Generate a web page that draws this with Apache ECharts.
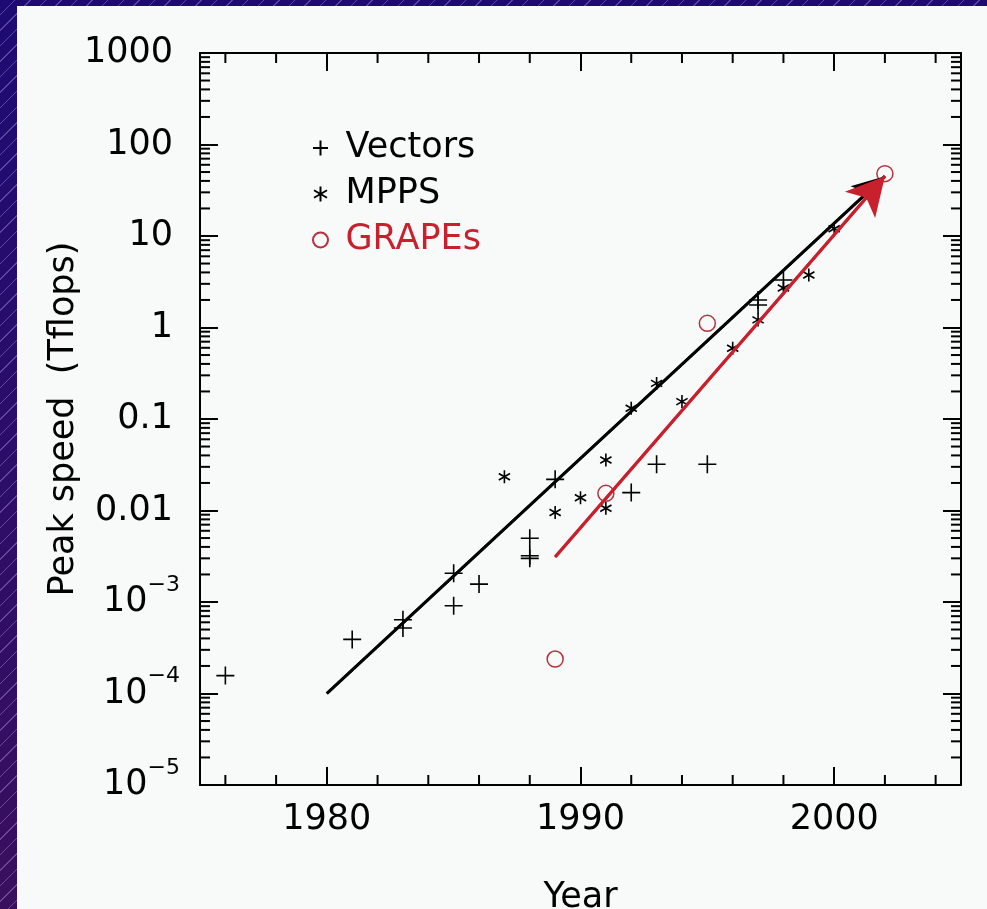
<!DOCTYPE html>
<html>
<head>
<meta charset="utf-8">
<script src="https://cdn.jsdelivr.net/npm/echarts@6/dist/echarts.min.js"></script>
<style>
  html, body { margin: 0; padding: 0; }
  body {
    width: 987px; height: 909px; overflow: hidden;
    background:
      repeating-linear-gradient(135deg, rgba(200,180,255,0) 0 10px, rgba(200,180,255,0.35) 10px 11px),
      linear-gradient(180deg, #1d0b73, #3a0f5e);
  }
  #chart { position: absolute; left: 0; top: 0; width: 987px; height: 909px; }
</style>
</head>
<body>
<div id="chart"></div>
<script>
// Axis ranges
const xMin = 1975, xMax = 2005;
const yMin = 1e-5, yMax = 1000;

// Tick labels
const xLabelYears = [1980, 1990, 2000];
const xMinorYears = [1976, 1978, 1982, 1984, 1986, 1988, 1992, 1994, 1996, 1998, 2002, 2004];
const yTickLabels = ['{b|10}{s|−5}', '{b|10}{s|−4}', '{b|10}{s|−3}', '{p|0.01}', '{p|0.1}', '{p|1}', '{p|10}', '{p|100}', '{p|1000}'];

// Peak speed (Tflops) by year
const vectors = [
  [1976, 1.57e-4], [1981, 3.9e-4], [1983, 6.4e-4], [1983, 5.2e-4],
  [1985, 2.06e-3], [1985, 9.1e-4], [1986, 1.57e-3], [1988, 4.97e-3],
  [1988, 3.2e-3], [1988, 3.0e-3], [1989, 0.0219], [1992, 0.0157],
  [1993, 0.032], [1995, 0.032], [1997, 2.0], [1997, 1.76], [1998, 3.3]
];
const mpps = [
  [1987, 0.0234], [1989, 0.0095], [1990, 0.0138], [1991, 0.0356],
  [1991, 0.0106], [1992, 0.131], [1993, 0.245], [1994, 0.155],
  [1996, 0.593], [1997, 1.21], [1998, 2.7], [1999, 3.75], [2000, 12]
];
const grapes = [[1989, 2.38e-4], [1991, 0.0154], [1995, 1.11], [2002, 48]];

// Trend arrows
const trendAll = [[1980, 1e-4], [2002, 45]];
const trendGrape = [[1989, 3.1e-3], [2002, 45]];

const FONT = 'DejaVu Sans';
const RED = '#c8202c';

// Minor tick positions: 2..9 within each decade, every other year on x
const minorTicks = [];
for (let e = -5; e < 3; e++) {
  for (let m = 2; m <= 9; m++) {
    minorTicks.push([xMin, Number((m * Math.pow(10, e)).toPrecision(3)), 0]);
  }
}
xMinorYears.forEach(function (yr) { minorTicks.push([yr, yMin, 1]); });

const plusPath = 'path://M10,0L10,20M0,10L20,10';
const starPath = 'path://M10,0L10,20M1.34,5L18.66,15M1.34,15L18.66,5';

const chart = echarts.init(document.getElementById('chart'), null, { renderer: 'canvas' });

const majorTick = { show: true, inside: true, length: 18, lineStyle: { color: '#000', width: 2 } };
const axisLineStyle = { show: true, onZero: false, lineStyle: { color: '#000', width: 2 } };

chart.setOption({
  animation: false,
  backgroundColor: 'transparent',
  graphic: [{
    type: 'rect', left: 17, top: 6, z: -10,
    shape: { width: 970, height: 903 },
    style: { fill: '#f7faf8' }
  }],
  grid: { left: 200, top: 53, right: 26, bottom: 124, containLabel: false, outerBoundsMode: 'none' },
  legend: {
    orient: 'vertical', left: 307, top: 125,
    itemWidth: 40, itemHeight: 15, itemGap: 10,
    selectedMode: false,
    textStyle: { fontSize: 35, fontFamily: FONT, color: '#000', lineHeight: 36 },
    data: [
      { name: 'Vectors' },
      { name: 'MPPS' },
      { name: 'GRAPEs', textStyle: { color: RED } }
    ]
  },
  xAxis: [{
    type: 'value', position: 'bottom', min: xMin, max: xMax,
    name: 'Year', nameLocation: 'middle', nameGap: 95, nameMoveOverlap: false,
    nameTextStyle: { fontSize: 35, fontFamily: FONT, color: '#000' },
    axisLine: axisLineStyle,
    axisTick: Object.assign({ customValues: xLabelYears }, majorTick),
    axisLabel: {
      customValues: xLabelYears, fontSize: 35, fontFamily: FONT, color: '#000', margin: 17,
      formatter: function (v) { return String(v); }
    },
    splitLine: { show: false }
  }, {
    type: 'value', position: 'top', min: xMin, max: xMax,
    axisLine: axisLineStyle,
    axisTick: Object.assign({ customValues: xLabelYears }, majorTick),
    axisLabel: { show: false },
    splitLine: { show: false }
  }],
  yAxis: [{
    type: 'log', logBase: 10, position: 'left', min: yMin, max: yMax,
    splitNumber: 8, interval: 1,
    name: 'Peak speed  (Tflops)', nameLocation: 'middle', nameGap: 119, nameRotate: 90,
    nameMoveOverlap: false,
    nameTextStyle: { fontSize: 35, fontFamily: FONT, color: '#000' },
    axisLine: axisLineStyle,
    axisTick: majorTick,
    axisLabel: {
      margin: 20, fontSize: 35, fontFamily: FONT, color: '#000',
      formatter: function (v) { return yTickLabels[Math.round(Math.log10(v)) + 5]; },
      rich: {
        p: { fontSize: 35, fontFamily: FONT, color: '#000', lineHeight: 40, padding: [0, 7, 0, 0] },
        b: { fontSize: 35, fontFamily: FONT, color: '#000', lineHeight: 56 },
        s: { fontSize: 22, fontFamily: FONT, color: '#000', lineHeight: 12, verticalAlign: 'top' }
      }
    },
    splitLine: { show: false }
  }, {
    type: 'log', logBase: 10, position: 'right', min: yMin, max: yMax,
    splitNumber: 8, interval: 1,
    axisLine: axisLineStyle,
    axisTick: majorTick,
    axisLabel: { show: false },
    splitLine: { show: false }
  }],
  series: [
    {
      name: 'ticks', type: 'custom', silent: true, clip: false,
      data: minorTicks,
      renderItem: function (params, api) {
        const kind = api.value(2);
        const len = 10;
        const st = { stroke: '#000', lineWidth: 2 };
        if (kind === 0) {
          const v = api.value(1);
          const a = api.coord([xMin, v]);
          const b = api.coord([xMax, v]);
          return { type: 'group', children: [
            { type: 'line', shape: { x1: a[0], y1: a[1], x2: a[0] + len, y2: a[1] }, style: st },
            { type: 'line', shape: { x1: b[0], y1: b[1], x2: b[0] - len, y2: b[1] }, style: st }
          ] };
        }
        const x = api.value(0);
        const a = api.coord([x, yMin]);
        const b = api.coord([x, yMax]);
        return { type: 'group', children: [
          { type: 'line', shape: { x1: a[0], y1: a[1], x2: a[0], y2: a[1] - len }, style: st },
          { type: 'line', shape: { x1: b[0], y1: b[1], x2: b[0], y2: b[1] + len }, style: st }
        ] };
      }
    },
    {
      name: 'trend', type: 'line', data: trendAll, showSymbol: false, symbol: 'none',
      lineStyle: { color: '#000', width: 3 }, silent: true,
      markLine: {
        silent: true, symbol: ['none', 'arrow'], symbolSize: [24, 32],
        lineStyle: { color: '#000', width: 3, type: 'solid' },
        label: { show: false },
        data: [[{ coord: trendAll[0] }, { coord: trendAll[1] }]]
      }
    },
    {
      name: 'trendGrape', type: 'line', data: trendGrape, showSymbol: false, symbol: 'none',
      lineStyle: { color: RED, width: 3 }, silent: true,
      markLine: {
        silent: true, symbol: ['none', 'arrow'], symbolSize: [30, 38],
        lineStyle: { color: RED, width: 3, type: 'solid' },
        label: { show: false },
        data: [[{ coord: trendGrape[0] }, { coord: trendGrape[1] }]]
      }
    },
    {
      name: 'Vectors', type: 'scatter', data: vectors,
      symbol: plusPath, symbolSize: 18, symbolKeepAspect: true,
      itemStyle: { color: 'rgba(0,0,0,0)', borderColor: '#000', borderWidth: 1.6, opacity: 1 }
    },
    {
      name: 'MPPS', type: 'scatter', data: mpps,
      symbol: starPath, symbolSize: 13, symbolKeepAspect: true,
      itemStyle: { color: 'rgba(0,0,0,0)', borderColor: '#000', borderWidth: 1.6, opacity: 1 }
    },
    {
      name: 'GRAPEs', type: 'scatter', data: grapes,
      symbol: 'circle', symbolSize: 16,
      itemStyle: { color: 'rgba(0,0,0,0)', borderColor: '#b8303c', borderWidth: 1.5, opacity: 1 }
    }
  ]
});
</script>
</body>
</html>
